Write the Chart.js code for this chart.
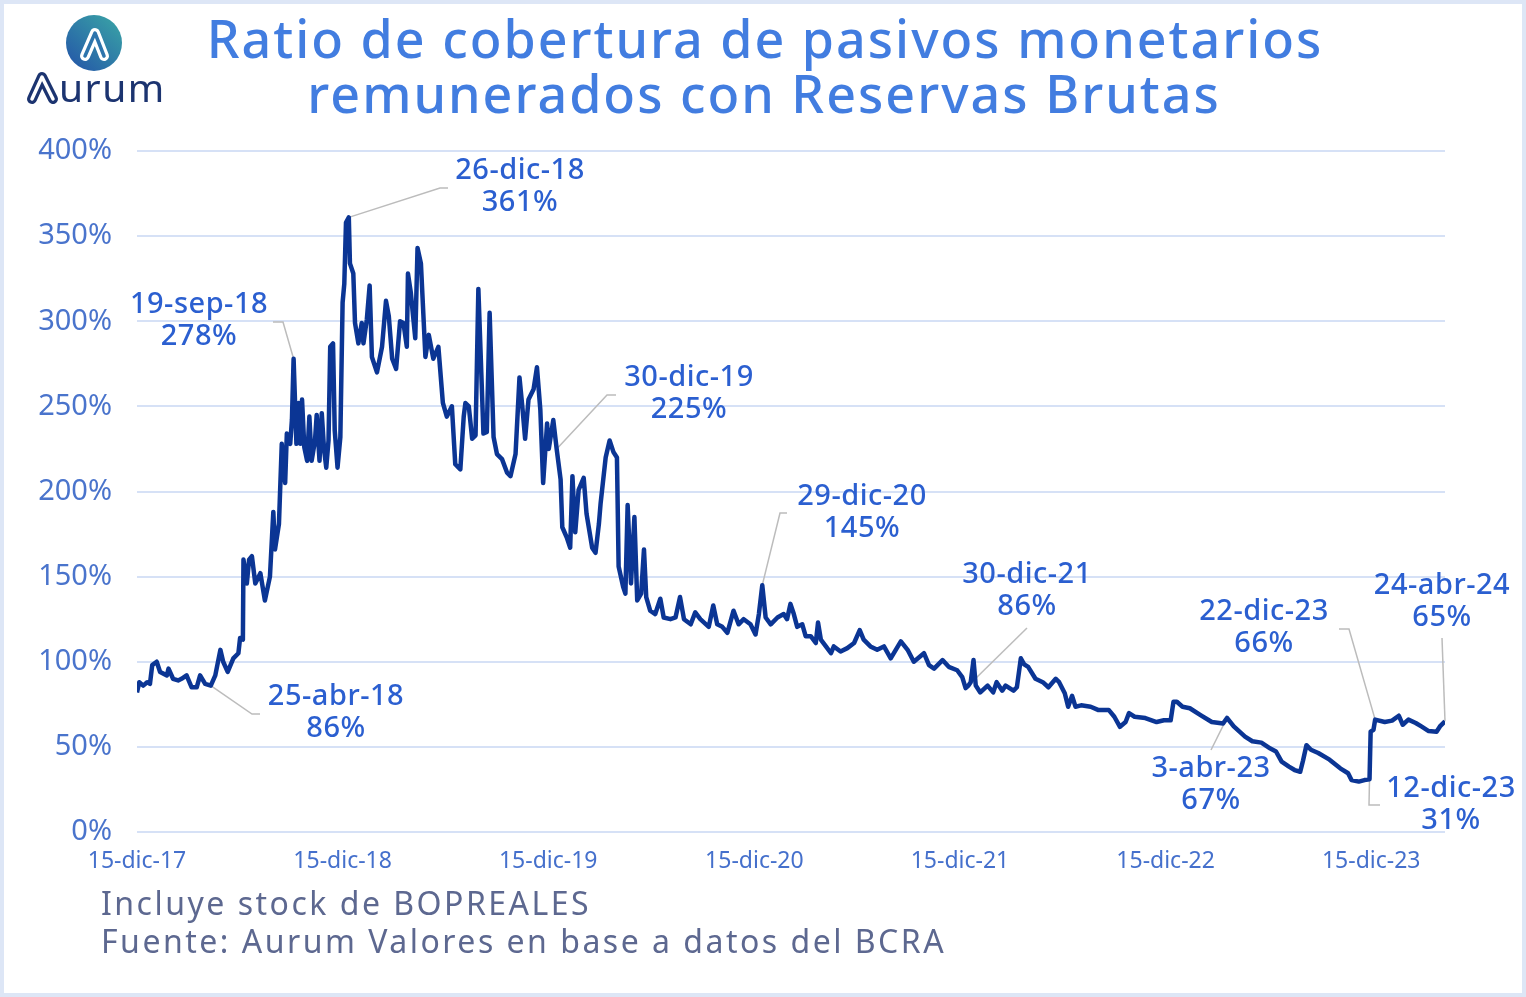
<!DOCTYPE html>
<html>
<head>
<meta charset="utf-8">
<script src="https://cdn.jsdelivr.net/npm/chart.js@4.4.1/dist/chart.umd.min.js"></script>
<style>
  html, body { margin: 0; padding: 0; background: #fff; }
  canvas { display: block; }
</style>
</head>
<body>
<canvas id="chart" width="1526" height="997"></canvas>
<script>
// days counted from 15-dic-17
const dayIndex = [
  0, 4, 11, 18, 23, 27, 35, 41, 53, 56,
  64, 73, 79, 88, 97, 106, 112, 121, 131, 139,
  148, 153, 161, 171, 180, 183, 188, 189, 195, 199,
  204, 210, 219, 227, 236, 242, 245, 252, 257, 263,
  266, 272, 275, 278, 283, 287, 290, 293, 297, 302,
  306, 310, 316, 319, 324, 328, 332, 336, 340, 343,
  348, 351, 356, 361, 365, 368, 371, 376, 378, 384,
  387, 393, 399, 402, 408, 413, 417, 426, 435, 442,
  447, 453, 460, 467, 473, 479, 481, 486, 494, 498,
  504, 512, 518, 526, 535, 543, 550, 559, 565, 574,
  580, 583, 589, 595, 601, 606, 615, 621, 626, 633,
  639, 648, 657, 663, 672, 679, 684, 689, 695, 704,
  710, 716, 721, 728, 731, 739, 745, 752, 755, 763,
  769, 773, 778, 784, 793, 798, 808, 814, 820, 823,
  832, 839, 846, 852, 855, 863, 867, 871, 877, 883,
  888, 895, 900, 904, 911, 920, 929, 935, 947, 956,
  964, 971, 983, 991, 1000, 1015, 1023, 1030, 1039, 1048,
  1059, 1068, 1077, 1089, 1098, 1104, 1110, 1116, 1125, 1137,
  1148, 1154, 1160, 1166, 1172, 1181, 1187, 1196, 1205, 1209,
  1214, 1223, 1232, 1237, 1249, 1261, 1273, 1283, 1290, 1302,
  1314, 1326, 1338, 1347, 1356, 1368, 1379, 1397, 1406, 1415,
  1430, 1441, 1456, 1465, 1471, 1476, 1480, 1485, 1489, 1497,
  1510, 1520, 1526, 1536, 1542, 1556, 1562, 1569, 1575, 1582,
  1595, 1608, 1618, 1631, 1637, 1647, 1653, 1660, 1666, 1676,
  1693, 1706, 1725, 1735, 1745, 1755, 1761, 1771, 1790, 1810,
  1823, 1835, 1840, 1846, 1856, 1869, 1888, 1908, 1928, 1935,
  1947, 1967, 1980, 1996, 2012, 2022, 2032, 2045, 2055, 2065,
  2070, 2076, 2084, 2097, 2117, 2136, 2150, 2156, 2169, 2179,
  2188, 2190, 2195, 2198, 2215, 2228, 2240, 2247, 2257, 2270,
  2280, 2293, 2307, 2313, 2322
];

const ratioPct = [
  82, 88, 86, 88, 87, 98, 100, 94, 92, 96,
  90, 89, 90, 92, 85, 85, 92, 87, 86, 92,
  107, 100, 94, 102, 105, 114, 113, 160, 146, 160,
  162, 146, 152, 136, 150, 188, 166, 181, 228, 205,
  234, 228, 242, 278, 228, 252, 228, 254, 226, 218,
  244, 218, 230, 245, 218, 246, 225, 214, 230, 285,
  287, 236, 214, 232, 311, 322, 358, 361, 334, 328,
  299, 287, 299, 287, 301, 321, 279, 270, 285, 312,
  303, 278, 272, 300, 299, 285, 328, 317, 290, 343,
  334, 279, 292, 278, 285, 252, 244, 250, 216, 213,
  244, 252, 250, 231, 233, 319, 234, 235, 305, 232,
  222, 219, 211, 209, 222, 267, 250, 231, 254, 260,
  273, 248, 205, 240, 225, 242, 225, 207, 179, 173,
  167, 209, 176, 201, 208, 187, 167, 164, 181, 193,
  220, 230, 223, 220, 156, 144, 140, 192, 146, 185,
  136, 140, 166, 138, 130, 128, 137, 126, 125, 126,
  138, 125, 122, 129, 125, 120.5, 133, 122, 120.5, 117,
  130, 122, 125, 122, 116, 128, 145, 126, 122, 126,
  128, 125, 134, 128, 120.5, 122, 115, 115, 111, 123,
  113, 109, 105, 109, 106, 108, 111, 118.6, 113, 109,
  107, 109, 102, 107, 112, 107, 100, 105, 98, 96,
  101, 97, 95, 91, 84.5, 86, 88, 101, 86, 82,
  86, 82, 88, 83, 86, 83, 85, 102, 98.5, 97,
  90, 88, 85, 90, 88, 81.5, 73.6, 80, 73.6, 74.4,
  73.6, 71.7, 71.7, 67.7, 61.8, 64.6, 69.8, 67.7, 66.9, 64.6,
  65.6, 65.6, 76.5, 76.5, 73.6, 72.7, 68.7, 64.6, 63.7, 67,
  62, 56, 53.3, 52.5, 49, 47.3, 41.3, 38.4, 36.4, 35.4,
  42, 51, 48.3, 46.4, 42.5, 37.4, 34.5, 30.5, 29.6, 30.5,
  31, 58.9, 60, 66, 64.6, 65.4, 68.3, 63, 66, 64,
  62, 59.3, 58.9, 62, 65
];

const tickDays = [0, 365, 730, 1096, 1461, 1826, 2191];
const tickLabels = ["15-dic-17", "15-dic-18", "15-dic-19", "15-dic-20", "15-dic-21", "15-dic-22", "15-dic-23"];

// highlighted points
const calloutDates = ["25-abr-18", "19-sep-18", "26-dic-18", "30-dic-19", "29-dic-20", "30-dic-21", "3-abr-23", "22-dic-23", "12-dic-23", "24-abr-24"];
const calloutDays = [131, 278, 376, 745, 1110, 1476, 1935, 2198, 2188, 2322];
const calloutValues = [86, 278, 361, 225, 145, 86, 67, 66, 31, 65];

// where each callout's text sits and how its leader bends
const calloutLayout = [
  { tx: 336, ty: 697, path: [[252, 714], [260, 714]] },
  { tx: 199, ty: 305, path: [[283, 322], [273, 322]] },
  { tx: 520, ty: 171, path: [[440, 188], [448, 188]] },
  { tx: 689, ty: 378, path: [[607, 395], [616, 395]] },
  { tx: 862, ty: 497, path: [[780, 513], [787, 513]] },
  { tx: 1027, ty: 575, path: [[1027, 628]] },
  { tx: 1211, ty: 769, path: [[1211, 750]] },
  { tx: 1264, ty: 612, path: [[1349, 629], [1339, 629]] },
  { tx: 1451, ty: 789, path: [[1369, 805], [1380, 805]] },
  { tx: 1442, ty: 586, path: [[1442, 638]] }
];

const FONT = '"Noto Sans", "DejaVu Sans", sans-serif';

const points = dayIndex.map((d, i) => ({ x: d, y: ratioPct[i] }));

const decorPlugin = {
  id: "decor",
  beforeDraw(chart) {
    const { ctx, width, height } = chart;
    ctx.save();
    ctx.fillStyle = "#dde6f6";
    ctx.fillRect(0, 0, width, height);
    ctx.fillStyle = "#ffffff";
    ctx.fillRect(4, 4, width - 8, height - 8);
    ctx.restore();
  },
  beforeDatasetsDraw(chart) {
    const { ctx, scales } = chart;
    ctx.save();
    ctx.strokeStyle = "#bcbcbc";
    ctx.lineWidth = 1.5;
    calloutLayout.forEach((c, i) => {
      const px = scales.x.getPixelForValue(calloutDays[i]);
      const py = scales.y.getPixelForValue(calloutValues[i]);
      ctx.beginPath();
      ctx.moveTo(px, py);
      c.path.forEach(p => ctx.lineTo(p[0], p[1]));
      ctx.stroke();
    });
    ctx.restore();
  },
  afterDatasetsDraw(chart) {
    const { ctx } = chart;
    ctx.save();
    ctx.fillStyle = "#2b5fd0";
    ctx.font = "500 29px " + FONT;
    ctx.letterSpacing = "0.5px";
    ctx.textAlign = "center";
    ctx.textBaseline = "middle";
    calloutLayout.forEach((c, i) => {
      ctx.fillText(calloutDates[i], c.tx, c.ty);
      ctx.fillText(calloutValues[i] + "%", c.tx, c.ty + 32);
    });
    ctx.restore();
  },
  afterDraw(chart) {
    const { ctx } = chart;
    ctx.save();
    // title
    ctx.fillStyle = "#427de0";
    ctx.font = "500 52px " + FONT;
    ctx.letterSpacing = "2px";
    ctx.textAlign = "center";
    ctx.textBaseline = "middle";
    ctx.fillText("Ratio de cobertura de pasivos monetarios", 765, 43);
    ctx.fillText("remunerados con Reservas Brutas", 764, 98);

    // notes
    ctx.fillStyle = "#5d6890";
    ctx.font = "32px " + FONT;
    ctx.letterSpacing = "2.5px";
    ctx.textAlign = "left";
    ctx.fillText("Incluye stock de BOPREALES", 101, 906);
    ctx.fillText("Fuente: Aurum Valores en base a datos del BCRA", 101, 944);
    ctx.letterSpacing = "0px";

    // logo badge
    const g = ctx.createLinearGradient(70, 70, 120, 15);
    g.addColorStop(0, "#2456a8");
    g.addColorStop(1, "#3aa6a6");
    ctx.fillStyle = g;
    ctx.beginPath();
    ctx.arc(94, 43, 28, 0, Math.PI * 2);
    ctx.fill();
    ctx.lineJoin = "round";
    ctx.lineCap = "round";
    ctx.strokeStyle = "#ffffff";
    ctx.lineWidth = 10;
    ctx.beginPath();
    ctx.moveTo(85, 56); ctx.lineTo(95, 33); ctx.lineTo(104, 56);
    ctx.stroke();
    ctx.strokeStyle = "#2d74ac";
    ctx.lineWidth = 3.5;
    ctx.beginPath();
    ctx.moveTo(85, 56); ctx.lineTo(95, 33); ctx.lineTo(104, 56);
    ctx.stroke();

    // wordmark
    ctx.strokeStyle = "#1c3470";
    ctx.lineWidth = 10;
    ctx.beginPath();
    ctx.moveTo(32, 99); ctx.lineTo(42, 77); ctx.lineTo(53, 99);
    ctx.stroke();
    ctx.strokeStyle = "#ffffff";
    ctx.lineWidth = 3.5;
    ctx.beginPath();
    ctx.moveTo(32, 99); ctx.lineTo(42, 77); ctx.lineTo(53, 99);
    ctx.stroke();
    ctx.fillStyle = "#1c3470";
    ctx.font = "39px " + FONT;
    ctx.letterSpacing = "1.5px";
    ctx.textBaseline = "alphabetic";
    ctx.fillText("urum", 59, 102);
    ctx.restore();
  }
};

new Chart(document.getElementById("chart"), {
  type: "line",
  data: {
    datasets: [{
      data: points,
      borderColor: "#0b3594",
      borderWidth: 4.5,
      pointRadius: 0,
      tension: 0,
      borderJoinStyle: "round",
      fill: false
    }]
  },
  options: {
    responsive: false,
    animation: false,
    devicePixelRatio: 1,
    layout: { padding: { left: 0, right: 81, top: 151, bottom: 0 } },
    plugins: {
      legend: { display: false },
      tooltip: { enabled: false },
      title: { display: false }
    },
    scales: {
      x: {
        type: "linear",
        min: 0,
        max: 2322,
        afterBuildTicks: scale => {
          scale.ticks = tickDays.map(v => ({ value: v }));
        },
        afterFit: scale => { scale.height = 165; },
        grid: { display: false },
        border: { display: false },
        ticks: {
          autoSkip: false,
          maxRotation: 0,
          padding: 8,
          color: "#4570cc",
          font: { family: FONT, size: 23 },
          callback: v => tickLabels[tickDays.indexOf(v)]
        }
      },
      y: {
        min: 0,
        max: 400,
        afterFit: scale => { scale.width = 137; },
        grid: { color: "#d6e1f6", lineWidth: 2, drawTicks: false },
        border: { display: false },
        ticks: {
          stepSize: 50,
          padding: 25,
          color: "#4a74cc",
          font: { family: FONT, size: 29 },
          callback: v => v + "%"
        }
      }
    }
  },
  plugins: [decorPlugin]
});
</script>
</body>
</html>
